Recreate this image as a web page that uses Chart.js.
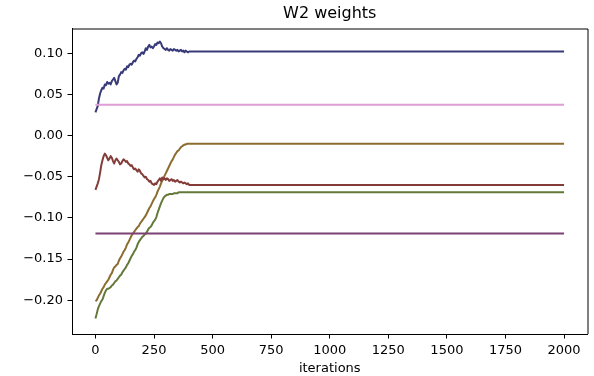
<!DOCTYPE html>
<html lang="en">
<head>
    <meta charset="UTF-8">
    <title>W2 weights</title>
    <script src="https://cdn.jsdelivr.net/npm/chart.js"></script>
    <style>
        body { margin: 0; background: #fff; }
        #wrap { width: 594px; height: 376px; }
    </style>
</head>
<body>
    <div id="wrap"><canvas id="weightsChart" width="594" height="376"></canvas></div>

    <script>
        // iteration numbers where the weights were sampled (flat after ~400)
        const iterations = [
            0, 5, 10, 15, 20, 25, 30, 35, 40, 45,
            50, 55, 60, 65, 70, 75, 80, 85, 90, 95,
            100, 105, 110, 115, 120, 125, 130, 135, 140, 145,
            150, 155, 160, 165, 170, 175, 180, 185, 190, 195,
            200, 205, 210, 215, 220, 225, 230, 235, 240, 245,
            250, 255, 260, 265, 270, 275, 280, 285, 290, 295,
            300, 305, 310, 315, 320, 325, 330, 335, 340, 345,
            350, 355, 360, 365, 370, 375, 380, 385, 390, 395,
            400, 2000];

        const w0 = [
            0.028, 0.032, 0.036, 0.045, 0.051, 0.055, 0.058, 0.057, 0.062, 0.061,
            0.065, 0.063, 0.064, 0.062, 0.066, 0.068, 0.070, 0.066, 0.062, 0.064,
            0.072, 0.074, 0.077, 0.076, 0.079, 0.081, 0.080, 0.084, 0.083, 0.086,
            0.087, 0.086, 0.089, 0.091, 0.090, 0.093, 0.095, 0.098, 0.097, 0.100,
            0.101, 0.099, 0.102, 0.106, 0.104, 0.108, 0.110, 0.107, 0.108, 0.106,
            0.108, 0.111, 0.110, 0.113, 0.112, 0.114, 0.112, 0.108, 0.106, 0.105,
            0.104, 0.106, 0.104, 0.103, 0.105, 0.104, 0.103, 0.105, 0.104, 0.103,
            0.104, 0.102, 0.103, 0.104, 0.102, 0.103, 0.101, 0.103, 0.102, 0.101,
            0.102, 0.102];

        const w1 = [
            -0.222, -0.217, -0.211, -0.207, -0.204, -0.201, -0.199, -0.195, -0.191, -0.188,
            -0.186, -0.186, -0.185, -0.184, -0.182, -0.181, -0.179, -0.177, -0.176, -0.174,
            -0.172, -0.170, -0.169, -0.166, -0.164, -0.162, -0.160, -0.157, -0.155, -0.152,
            -0.149, -0.146, -0.144, -0.141, -0.139, -0.136, -0.132, -0.129, -0.127, -0.125,
            -0.123, -0.122, -0.120, -0.119, -0.117, -0.114, -0.112, -0.111, -0.109, -0.106,
            -0.104, -0.102, -0.099, -0.094, -0.090, -0.086, -0.082, -0.079, -0.076, -0.074,
            -0.073, -0.072, -0.072, -0.071, -0.071, -0.071, -0.071, -0.070, -0.070, -0.070,
            -0.070, -0.069, -0.069, -0.069, -0.069, -0.069, -0.069, -0.069, -0.069, -0.069,
            -0.069, -0.069];

        const w2 = [
            -0.201, -0.200, -0.197, -0.194, -0.192, -0.189, -0.186, -0.184, -0.181, -0.179,
            -0.177, -0.175, -0.172, -0.169, -0.167, -0.163, -0.160, -0.159, -0.157, -0.156,
            -0.152, -0.149, -0.147, -0.144, -0.141, -0.139, -0.136, -0.132, -0.130, -0.127,
            -0.124, -0.121, -0.119, -0.117, -0.115, -0.113, -0.111, -0.110, -0.107, -0.105,
            -0.103, -0.101, -0.099, -0.097, -0.094, -0.091, -0.088, -0.086, -0.083, -0.080,
            -0.077, -0.075, -0.072, -0.068, -0.065, -0.062, -0.058, -0.055, -0.052, -0.049,
            -0.046, -0.043, -0.040, -0.037, -0.034, -0.031, -0.029, -0.026, -0.023, -0.021,
            -0.019, -0.018, -0.016, -0.014, -0.013, -0.012, -0.011, -0.011, -0.010, -0.010,
            -0.010, -0.010];

        const w3 = [
            -0.066, -0.062, -0.058, -0.053, -0.045, -0.036, -0.030, -0.025, -0.022, -0.024,
            -0.027, -0.030, -0.028, -0.025, -0.027, -0.031, -0.034, -0.030, -0.028, -0.030,
            -0.032, -0.035, -0.034, -0.031, -0.029, -0.030, -0.032, -0.031, -0.034, -0.035,
            -0.037, -0.036, -0.039, -0.041, -0.040, -0.042, -0.044, -0.041, -0.043, -0.046,
            -0.047, -0.049, -0.051, -0.050, -0.053, -0.054, -0.056, -0.055, -0.058, -0.059,
            -0.060, -0.058, -0.059, -0.056, -0.054, -0.052, -0.055, -0.051, -0.053, -0.052,
            -0.054, -0.052, -0.053, -0.055, -0.054, -0.053, -0.055, -0.054, -0.056, -0.055,
            -0.054, -0.056, -0.057, -0.056, -0.057, -0.058, -0.057, -0.058, -0.059, -0.058,
            -0.060, -0.060];

        // these two never move
        const flatIterations = [0, 2000];
        const w4 = [-0.119, -0.119];
        const w5 = [0.0374, 0.0374];

        const xTicks = [0, 250, 500, 750, 1000, 1250, 1500, 1750, 2000];
        const yTicks = [-0.20, -0.15, -0.10, -0.05, 0.00, 0.05, 0.10];

        // tab20b sampled at 6 evenly spaced points
        const colors = ['#393b79', '#637939', '#8c6d31', '#843c39', '#7b4173', '#de9ed6'];

        function points(xs, ys) {
            return xs.map((x, i) => ({x: x, y: ys[i]}));
        }

        const series = [
            points(iterations, w0),
            points(iterations, w1),
            points(iterations, w2),
            points(iterations, w3),
            points(flatIterations, w4),
            points(flatIterations, w5)
        ];

        const datasets = series.map((data, i) => ({
            data: data,
            borderColor: colors[i],
            borderWidth: 2,
            pointRadius: 0,
            fill: false,
            tension: 0,
            borderJoinStyle: 'round',
            order: series.length - i // later lines sit on top
        }));

        // top and right spines
        const frame = {
            id: 'frame',
            afterDatasetsDraw(chart) {
                const a = chart.chartArea;
                const ctx = chart.ctx;
                ctx.save();
                ctx.strokeStyle = '#000';
                ctx.lineWidth = 1;
                ctx.beginPath();
                ctx.moveTo(a.left, a.top + 0.5);
                ctx.lineTo(a.right + 0.5, a.top + 0.5);
                ctx.lineTo(a.right + 0.5, a.bottom);
                ctx.stroke();
                ctx.restore();
            }
        };

        const tickFont = {family: 'DejaVu Sans', size: 13};

        new Chart(document.getElementById('weightsChart'), {
            type: 'line',
            data: {datasets: datasets},
            plugins: [frame],
            options: {
                responsive: false,
                animation: false,
                devicePixelRatio: 1,
                layout: {padding: {top: 0, right: 6.5, left: 0, bottom: 0}},
                plugins: {
                    legend: {display: false},
                    tooltip: {enabled: false},
                    title: {
                        display: true,
                        text: 'W2 weights',
                        fullSize: false,
                        color: '#000',
                        font: {family: 'DejaVu Sans', size: 16, weight: 'normal'},
                        padding: {top: 4, bottom: 5.3}
                    }
                },
                scales: {
                    x: {
                        type: 'linear',
                        min: -100,
                        max: 2100,
                        afterBuildTicks: axis => { axis.ticks = xTicks.map(v => ({value: v})); },
                        afterFit: axis => { axis.height = 42; },
                        grid: {drawOnChartArea: false, drawTicks: true, tickLength: 4.5, color: '#000', lineWidth: 1},
                        border: {display: true, color: '#000', width: 1},
                        ticks: {color: '#000', font: tickFont, padding: 4, maxRotation: 0,
                            callback: v => String(v)},
                        title: {display: true, text: 'iterations', color: '#000', font: tickFont,
                            padding: {top: 0, bottom: 0}}
                    },
                    y: {
                        min: -0.2409,
                        max: 0.1299,
                        afterBuildTicks: axis => { axis.ticks = yTicks.map(v => ({value: v})); },
                        afterFit: axis => { axis.width = 72; },
                        grid: {drawOnChartArea: false, drawTicks: true, tickLength: 4.5, color: '#000', lineWidth: 1},
                        border: {display: true, color: '#000', width: 1},
                        ticks: {color: '#000', font: tickFont, padding: 4.5,
                            callback: v => v.toFixed(2).replace('-', '\u2212')}
                    }
                }
            }
        });
    </script>
</body>
</html>
